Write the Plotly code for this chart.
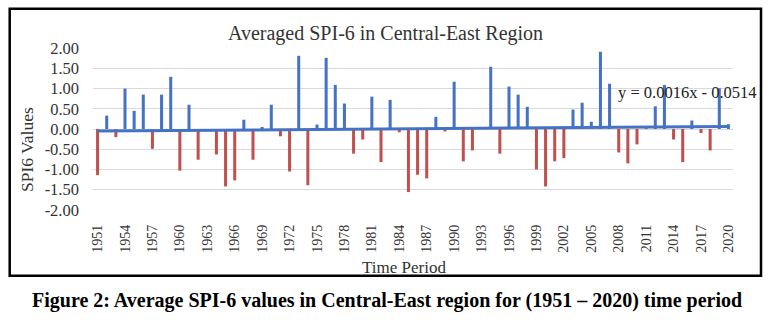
import plotly.graph_objects as go

# Averaged SPI-6 per year, Central-East region
years = list(range(1951, 2021))
spi6 = [
    -1.14, 0.33, -0.20, 1.00, 0.45, 0.85, -0.49, 0.85, 1.29, -1.03,
    0.60, -0.76, -0.02, -0.63, -1.42, -1.27, 0.23, -0.76, 0.03, 0.60,
    -0.18, -1.05, 1.81, -1.39, 0.11, 1.76, 1.09, 0.63, -0.61, -0.26,
    0.80, -0.82, 0.72, -0.08, -1.56, -1.13, -1.22, 0.30, -0.06, 1.17,
    -0.80, -0.53, 0.02, 1.54, -0.61, 1.05, 0.85, 0.55, -1.00, -1.42,
    -0.80, -0.72, 0.48, 0.65, 0.18, 1.91, 1.12, -0.58, -0.85, -0.38,
    0.03, 0.56, 1.09, -0.26, -0.82, 0.21, -0.10, -0.53, 1.01, 0.12,
]

# Linear trend y = a*x + b, x = 1..70
trend_slope = 0.0016
trend_intercept = -0.0514

x_tick_years = list(range(1951, 2021, 3))
y_tick_vals = [2.0, 1.5, 1.0, 0.5, 0.0, -0.5, -1.0, -1.5, -2.0]
y_tick_text = ["2.00", "1.50", "1.00", "0.50", "0.00", "-0.50", "-1.00", "-1.50", "-2.00"]

BLUE = "#4472C4"
RED = "#C0504D"
SERIF = "Liberation Serif, Times New Roman, serif"

bar_colors = [BLUE if v >= 0 else RED for v in spi6]
trend_y = [trend_slope * (i + 1) + trend_intercept for i in range(len(years))]

fig = go.Figure()
fig.add_trace(go.Bar(x=years, y=spi6, marker=dict(color=bar_colors, line=dict(width=0)),
                     showlegend=False, hoverinfo="x+y"))
fig.add_trace(go.Scatter(x=[years[0], years[-1]], y=[trend_y[0], trend_y[-1]], mode="lines",
                         line=dict(color=BLUE, width=3), showlegend=False, hoverinfo="skip"))

fig.update_layout(
    width=771, height=327,
    margin=dict(l=93, r=38, t=48, b=117),
    paper_bgcolor="white", plot_bgcolor="white",
    bargap=0.67,
    font=dict(family=SERIF, color="#222222"),
    xaxis=dict(
        range=[1950.5, 2020.5], tickvals=x_tick_years, ticktext=[str(y) for y in x_tick_years],
        tickangle=-90, tickfont=dict(size=14, family=SERIF, color="#333333"),
        showgrid=False, zeroline=False, showline=False, ticks="", ticklabelstandoff=11,
    ),
    yaxis=dict(
        range=[-2.003, 2.003], tickvals=y_tick_vals, ticktext=y_tick_text,
        tickfont=dict(size=16.5, family=SERIF, color="#333333"),
        showgrid=True, gridcolor="#D9D9D9", gridwidth=1, zeroline=False, showline=False,
        ticks="", ticklabelstandoff=13,
    ),
    annotations=[
        dict(text="Averaged SPI-6 in Central-East Region", xref="paper", yref="paper",
             x=(385 - 93) / 640, y=(210 - 33) / 162, xanchor="center", yanchor="middle", showarrow=False,
             font=dict(size=20, family=SERIF, color="#333333")),
        dict(text="SPI6 Values", xref="paper", yref="paper", x=(27 - 93) / 640, y=(210 - 150) / 162,
             xanchor="center", yanchor="middle", textangle=-90, showarrow=False,
             font=dict(size=17.5, family=SERIF, color="#333333")),
        dict(text="Time Period", xref="paper", yref="paper", x=(404 - 93) / 640, y=(210 - 267) / 162,
             xanchor="center", yanchor="middle", showarrow=False,
             font=dict(size=17, family=SERIF, color="#333333")),
        dict(text="y = 0.0016x - 0.0514", xref="paper", yref="paper", x=(616 - 93) / 640,
             y=(210 - 92) / 162, xanchor="left", yanchor="middle", showarrow=False,
             font=dict(size=16.5, family=SERIF, color="#222222")),
        dict(text="<b>Figure 2: Average SPI-6 values in Central-East region for (1951 – 2020) time period</b>",
             xref="paper", yref="paper", x=(387 - 93) / 640, y=(210 - 300) / 162,
             xanchor="center", yanchor="middle", showarrow=False,
             font=dict(size=20, family=SERIF, color="#000000")),
    ],
    shapes=[
        dict(type="rect", xref="paper", yref="paper",
             x0=(9.7 - 93) / 640, x1=(761 - 93) / 640,
             y0=(210 - 275.8) / 162, y1=(210 - 8.7) / 162,
             line=dict(color="black", width=2.5), fillcolor="rgba(0,0,0,0)", layer="above"),
    ],
)

fig.write_html("out.html")
